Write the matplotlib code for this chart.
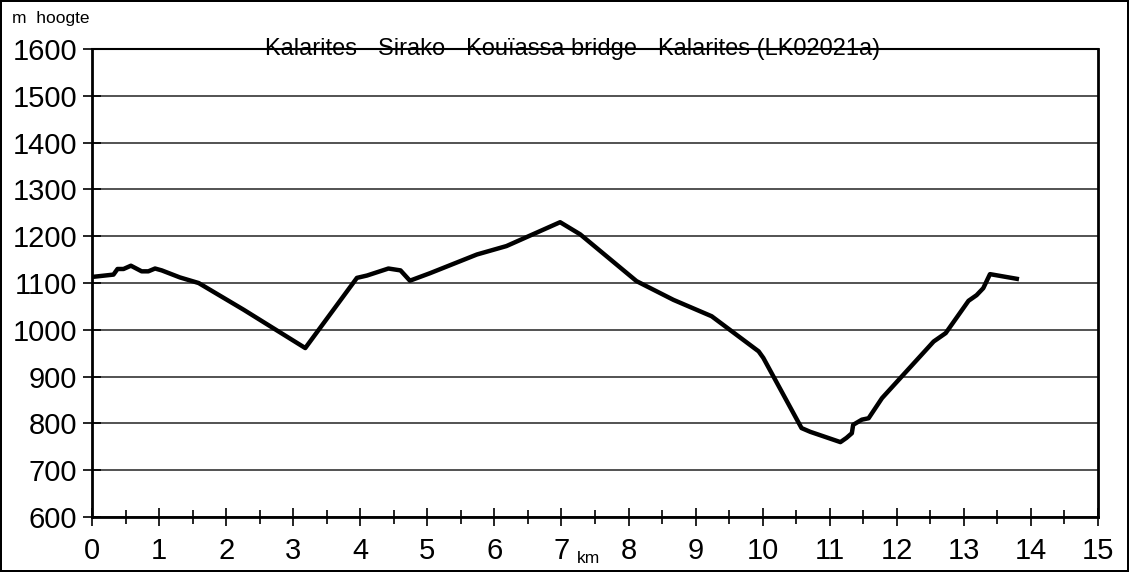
import matplotlib.pyplot as plt
from matplotlib.ticker import MultipleLocator

# afstand (km) en hoogte (m)
km = [0.0, 0.32, 0.38, 0.47, 0.58, 0.74, 0.84, 0.94, 1.04, 1.31, 1.59, 2.26, 3.18,
      3.95, 4.10, 4.42, 4.60, 4.74, 5.04, 5.74, 6.18, 6.98, 7.28, 8.12, 8.67, 9.24,
      9.94, 10.01, 10.58, 10.71, 11.16, 11.25, 11.33, 11.35, 11.48, 11.58, 11.78,
      12.55, 12.73, 13.07, 13.19, 13.29, 13.39, 13.79]
hoogte = [1113, 1118, 1130, 1130, 1137, 1125, 1125, 1131, 1127, 1112, 1100, 1043, 961,
          1111, 1116, 1131, 1127, 1105, 1121, 1161, 1179, 1230, 1204, 1104, 1064, 1029,
          954, 940, 790, 782, 760, 769, 779, 797, 808, 811, 854,
          975, 993, 1062, 1074, 1089, 1119, 1109]

titel = "Kalarites - Sirako - Kouïassa bridge - Kalarites (LK02021a)"

plt.rcParams['font.family'] = ['Liberation Sans', 'DejaVu Sans']

fig = plt.figure(figsize=(11.29, 5.72), dpi=100, edgecolor='black', linewidth=1.5)
ax = fig.add_axes([0.0815, 0.0962, 0.891, 0.818])

ax.plot(km, hoogte, color='black', linewidth=3.2, solid_joinstyle='round')

ax.set_xlim(0, 15)
ax.set_ylim(600, 1600)
ax.xaxis.set_major_locator(MultipleLocator(1))
ax.xaxis.set_minor_locator(MultipleLocator(0.5))
ax.yaxis.set_major_locator(MultipleLocator(100))
ax.tick_params(axis='both', which='both', direction='inout', color='black', width=1.2)
ax.tick_params(axis='x', which='major', length=13, labelsize=21, pad=8)
ax.tick_params(axis='x', which='minor', length=10)
ax.tick_params(axis='y', which='major', length=13, labelsize=21, pad=4)

ax.grid(axis='y', color='#444444', linewidth=1.3)
for s in ['left', 'bottom', 'right']:
    ax.spines[s].set_linewidth(2)
ax.spines['top'].set_linewidth(1.5)

fig.text(0.507, 0.914, titel, fontsize=17, ha='center', va='center')
fig.text(0.011, 0.968, "m  hoogte", fontsize=12.5, ha='left', va='center')
fig.text(0.521, 0.024, "km", fontsize=12.5, ha='center', va='center')

fig.savefig("out.png", dpi=100)
